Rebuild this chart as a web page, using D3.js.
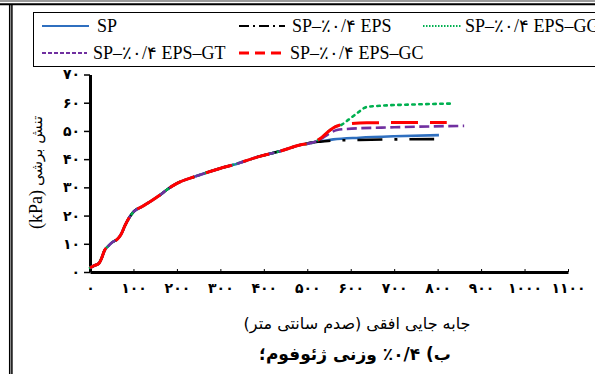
<!DOCTYPE html>
<html><head><meta charset="utf-8">
<script src="https://cdn.jsdelivr.net/npm/d3@7"></script>
<style>
html,body{margin:0;padding:0;background:#fff;}
svg{display:block;}
</style></head>
<body>
<svg id="chart" width="595" height="374"></svg>
<script>
// ---- data ----
const commonX = [0, 10, 20, 27, 33, 42, 52, 64, 72, 80, 90, 100, 120, 138, 161, 180, 200, 245, 299, 330, 391, 437, 483, 515];
const commonY = [1.5, 2.3, 3.0, 5.0, 7.5, 9.2, 10.6, 11.8, 13.5, 16.3, 19.2, 21.3, 23.2, 24.9, 27.3, 29.5, 31.4, 34.0, 36.7, 38.0, 41.0, 42.8, 45.0, 46.0];

const spTailX  = [530, 560, 620, 700, 803];
const spTailY  = [46.3, 47.0, 47.6, 48.1, 48.5];
const epsTailX = [530, 560, 620, 700, 792];
const epsTailY = [46.2, 46.6, 46.8, 47.0, 47.1];
const ggTailX  = [530, 550, 565, 579, 595, 614, 637, 667, 750, 836];
const ggTailY  = [47.3, 50.0, 51.5, 52.2, 54.0, 56.2, 58.5, 58.9, 59.4, 59.7];
const gtTailX  = [530, 548, 568, 591, 700, 861];
const gtTailY  = [47.0, 48.8, 50.3, 50.7, 51.3, 51.8];
const gcTailX  = [530, 550, 565, 579, 637, 821];
const gcTailY  = [47.3, 50.0, 51.5, 52.2, 52.9, 53.0];

const seriesNames = ["SP", "SP–٪۰/۴ EPS", "SP–٪۰/۴ EPS–GG", "SP–٪۰/۴ EPS–GT", "SP–٪۰/۴ EPS–GC"];
const seriesColors = ["#2f6fbf", "#000000", "#00b050", "#7030a0", "#ff0000"];

const xTickValues = [0,100,200,300,400,500,600,700,800,900,1000,1100];
const xTickLabels = ["۰","۱۰۰","۲۰۰","۳۰۰","۴۰۰","۵۰۰","۶۰۰","۷۰۰","۸۰۰","۹۰۰","۱۰۰۰","۱۱۰۰"];
const yTickValues = [0,10,20,30,40,50,60,70];
const yTickLabels = ["۰","۱۰","۲۰","۳۰","۴۰","۵۰","۶۰","۷۰"];

const yTitleFa = "تنش برشی";
const yTitleUnit = "(kPa)";
const xTitle = "جابه جایی افقی (صدم سانتی متر)";
const caption = "ب) ۰/۴٪ وزنی ژئوفوم؛";

// ---- build ----
function build(tx, ty){
  const pts = commonX.map((v,i)=>[v, commonY[i]]);
  tx.forEach((v,i)=>pts.push([v, ty[i]]));
  return pts;
}
const tails = [[spTailX,spTailY],[epsTailX,epsTailY],[ggTailX,ggTailY],[gtTailX,gtTailY],[gcTailX,gcTailY]];
const series = seriesNames.map((n,i)=>({name:n, color:seriesColors[i], pts: build(tails[i][0], tails[i][1])}));
const dashes = ["none", "25,12,3,12", "2.5,4.5", "10,4.5", "27,12"];
const widths = [2.6, 2.6, 2.6, 2.6, 3];

const svg = d3.select("#chart");
const fa = "'DejaVu Sans', sans-serif";

// frame
svg.append("rect").attr("x",0).attr("y",0).attr("width",595).attr("height",2).attr("fill","#9a9a9a");
svg.append("line").attr("x1",0).attr("x2",595).attr("y1",4.3).attr("y2",4.3).attr("stroke","#000").attr("stroke-width",2);
svg.append("line").attr("x1",9.7).attr("x2",9.7).attr("y1",4).attr("y2",374).attr("stroke","#000").attr("stroke-width",1.5);
svg.append("line").attr("x1",11.9).attr("x2",11.9).attr("y1",4).attr("y2",374).attr("stroke","#000").attr("stroke-width",1.5);

// legend
svg.append("rect").attr("x",33.5).attr("y",12.5).attr("width",600).attr("height",54).attr("fill","none").attr("stroke","#000").attr("stroke-width",1);
const legPos = [
  {x1:42,x2:89,tx:97,y:26},
  {x1:239,x2:285,tx:292,y:26},
  {x1:423,x2:462,tx:465,y:26},
  {x1:42,x2:87,tx:93,y:53},
  {x1:239,x2:281,tx:290,y:53}
];
const legDash = ["none","10,4,2,4","1.5,1.5","4,2","10,6"];
series.forEach((s,i)=>{
  const p = legPos[i];
  svg.append("line").attr("x1",p.x1).attr("x2",p.x2).attr("y1",p.y).attr("y2",p.y)
    .attr("stroke",s.color).attr("stroke-width",i===4?3:2.2).attr("stroke-dasharray",legDash[i]);
  svg.append("text").attr("x",p.tx).attr("y",p.y+6).attr("font-family","'Liberation Serif', serif")
    .attr("font-size",18).attr("fill","#000").text(s.name);
});

// scales
const x = d3.scaleLinear().domain([0,1100]).range([90,568]);
const y = d3.scaleLinear().domain([0,70]).range([272,74.5]);

// axes
const yAxis = svg.append("g").attr("transform","translate(90,0)")
  .call(d3.axisLeft(y).tickValues(yTickValues).tickFormat((d,i)=>yTickLabels[i]).tickSizeInner(6).tickSizeOuter(0).tickPadding(4));
yAxis.select(".domain").attr("stroke-width",3);
yAxis.selectAll(".tick line").attr("stroke-width",1.5);
yAxis.selectAll("text").attr("font-family",fa).attr("font-weight","bold").attr("font-size",14).attr("fill","#000");

const xAxis = svg.append("g").attr("transform","translate(0,272)")
  .call(d3.axisBottom(x).tickValues(xTickValues).tickFormat((d,i)=>xTickLabels[i]).tickSizeInner(-3).tickSizeOuter(0));
xAxis.select(".domain").attr("stroke-width",3);
xAxis.selectAll(".tick line").attr("stroke-width",1);
xAxis.selectAll("text").attr("font-family",fa).attr("font-weight","bold").attr("font-size",14).attr("fill","#000")
  .attr("y",21).attr("dy",0);

// lines
const line = d3.line().x(d=>x(d[0])).y(d=>y(d[1])).curve(d3.curveMonotoneX);
series.forEach((s,i)=>{
  svg.append("path").attr("d",line(s.pts)).attr("fill","none").attr("stroke",s.color)
    .attr("stroke-width",widths[i]).attr("stroke-dasharray",dashes[i])
    .attr("stroke-linecap", i===2 ? "round" : "butt");
});

// y title
const yt = svg.append("g").attr("transform","translate(42,186) rotate(-90)");
yt.append("text").attr("x",-4).attr("y",0).attr("text-anchor","end").attr("font-family","'Liberation Serif', serif").attr("font-size",18).text(yTitleUnit);
yt.append("text").attr("x",0).attr("y",0).attr("text-anchor","start").attr("font-family",fa).attr("font-size",15).text(yTitleFa);

// x title and caption (right-to-left)
svg.append("text").attr("x",357).attr("y",329).attr("direction","rtl").attr("text-anchor","middle")
  .attr("font-family",fa).attr("font-size",16).text(xTitle);
svg.append("text").attr("x",355).attr("y",360).attr("direction","rtl").attr("text-anchor","middle")
  .attr("font-family",fa).attr("font-weight","bold").attr("font-size",17).text(caption);
</script>
</body></html>
